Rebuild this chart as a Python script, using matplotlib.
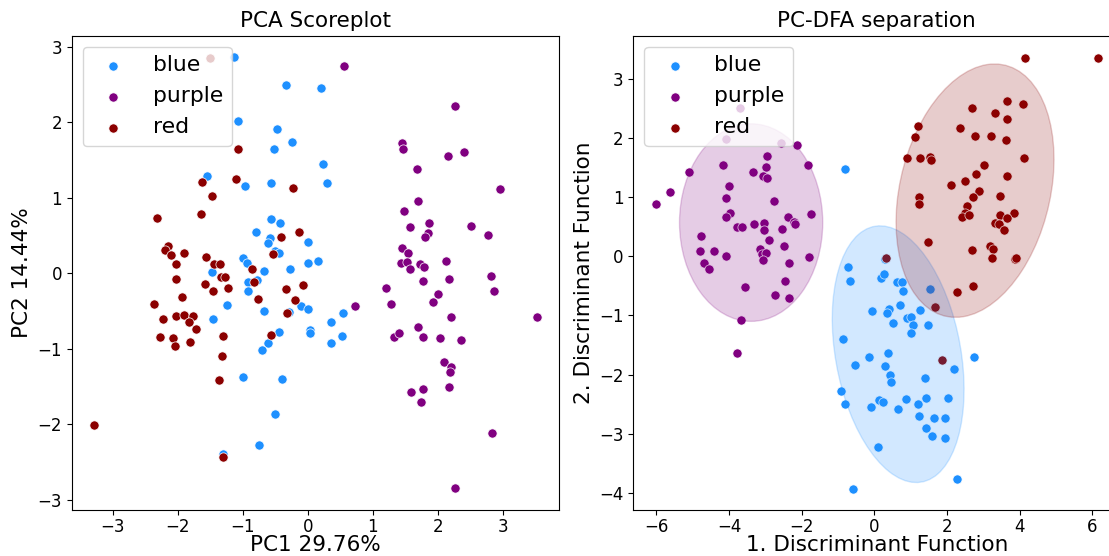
import matplotlib
matplotlib.use("Agg")
import matplotlib.pyplot as plt
from matplotlib.patches import Ellipse

# PCA scores (PC1, PC2)
pca_blue_x = [-1.13, -0.34, -1.08, -0.48, -0.25, -0.52, -1.55, -0.96, -0.57, -0.56,
              -0.42, -0.80, -0.58, -0.61, 0.00, -0.51, -0.44, -0.99, -0.93, 0.00,
              -0.27, -0.68, -1.47, -0.92, -0.78, -0.92, -1.24, -0.10, 0.00, -0.68,
              -0.29, -1.46, 0.04, 0.04, -0.44, -0.61, -0.71, -1.00, -0.40, -0.51,
              -0.75, -1.31, 0.20, 0.24, 0.30, 0.16, 0.54, 0.36, 0.53, 0.35]
pca_blue_y = [2.86, 2.49, 2.01, 1.91, 1.74, 1.65, 1.29, 1.16, 1.19, 0.72,
              0.66, 0.55, 0.46, 0.40, 0.41, 0.29, 0.27, 0.20, 0.14, 0.14,
              0.06, 0.03, 0.02, -0.11, -0.09, -0.24, -0.42, -0.43, -0.48, -0.50,
              -0.51, -0.60, -0.75, -0.79, -0.78, -0.93, -1.01, -1.37, -1.40, -1.87,
              -2.27, -2.39, 2.45, 1.45, 1.20, 0.16, -0.52, -0.65, -0.83, -0.93]

pca_purple_x = [0.56, 2.27, 1.45, 1.46, 2.16, 2.41, 1.68, 2.96, 1.69, 1.48,
                1.86, 1.57, 2.51, 1.85, 1.81, 2.77, 1.45, 1.54, 1.43, 1.53,
                1.72, 1.79, 1.58, 2.12, 1.77, 2.17, 2.82, 1.20, 2.87, 2.01,
                1.92, 1.28, 0.73, 2.20, 3.53, 1.70, 1.33, 1.41, 1.77, 2.03,
                2.36, 2.10, 2.21, 2.19, 2.17, 1.59, 1.77, 1.74, 2.83, 2.27]
pca_purple_y = [2.75, 2.21, 1.72, 1.65, 1.55, 1.60, 1.38, 1.11, 0.95, 0.83,
                0.66, 0.61, 0.63, 0.53, 0.48, 0.50, 0.34, 0.27, 0.13, 0.15,
                0.12, 0.08, 0.05, 0.16, -0.10, -0.07, -0.03, -0.19, -0.24, -0.27,
                -0.38, -0.41, -0.44, -0.58, -0.58, -0.71, -0.84, -0.79, -0.85, -0.86,
                -0.89, -1.18, -1.24, -1.31, -1.50, -1.57, -1.53, -1.71, -2.11, -2.85]

pca_red_x = [-1.51, -1.07, -1.62, -1.10, -0.22, -1.47, -2.32, -1.64, -0.14, -0.41,
             -2.15, -2.19, -1.91, -2.10, -0.53, -1.56, -2.03, -1.44, -1.35, -0.86,
             -2.02, -1.33, -1.27, -1.58, -1.46, -1.22, -0.82, -0.07, -0.34, -1.94,
             -2.37, -0.76, -0.19, -0.32, -2.03, -1.91, -1.76, -2.22, -1.82, -1.72,
             -0.57, -2.27, -2.08, -1.30, -1.81, -2.05, -1.32, -1.37, -3.29, -1.31]
pca_red_y = [2.85, 1.64, 1.21, 1.25, 1.13, 1.02, 0.73, 0.78, 0.55, 0.48,
             0.36, 0.31, 0.27, 0.24, 0.25, 0.21, 0.12, 0.12, 0.12, 0.06,
             -0.07, -0.05, -0.05, -0.14, -0.24, -0.19, -0.12, -0.15, -0.21, -0.31,
             -0.41, -0.34, -0.36, -0.53, -0.56, -0.55, -0.56, -0.60, -0.65, -0.74,
             -0.82, -0.85, -0.86, -0.83, -0.91, -0.96, -1.09, -1.41, -2.01, -2.43]

# PC-DFA scores (DF1, DF2)
dfa_blue_x = [-0.82, -0.73, -0.66, -0.06, -0.87, -0.14, -0.53, -0.93, -0.80, -0.10,
              -0.60, 0.28, 0.62, 0.76, 0.18, 0.26, 0.78, 1.54, 0.71, 0.40,
              0.35, 1.26, 0.52, 0.90, 1.02, 1.07, 1.02, 1.48, 0.38, 2.73,
              2.18, 0.30, 0.42, 0.45, 1.38, 2.02, 1.41, 0.88, 0.13, 0.24,
              1.19, 0.66, 1.22, 1.65, 1.94, 1.43, 1.59, 1.94, 0.11, 2.27]
dfa_blue_y = [1.48, -0.18, -0.41, -0.93, -1.39, -1.71, -1.84, -2.27, -2.50, -2.55,
              -3.93, -0.04, -0.43, -0.43, -0.37, -0.30, -0.58, -0.56, -0.82, -0.89,
              -0.96, -0.90, -1.13, -1.05, -1.02, -1.17, -1.29, -1.16, -1.64, -1.70,
              -1.90, -1.86, -2.01, -2.13, -2.05, -2.39, -2.39, -2.42, -2.43, -2.46,
              -2.50, -2.59, -2.70, -2.73, -2.74, -2.90, -3.04, -3.07, -3.23, -3.76]

dfa_purple_x = [-6.02, -5.63, -5.10, -3.69, -4.07, -2.58, -2.12, -2.95, -2.97, -1.83,
                -4.17, -3.35, -3.06, -2.94, -4.00, -4.07, -2.75, -3.98, -4.07, -1.74,
                -2.38, -2.20, -2.17, -3.77, -3.63, -3.32, -3.03, -3.03, -2.55, -4.77,
                -2.91, -2.48, -4.79, -4.40, -3.15, -3.08, -2.97, -3.06, -4.07, -1.81,
                -4.69, -4.55, -2.34, -2.46, -3.56, -2.73, -2.36, -3.68, -3.78]
dfa_purple_y = [0.89, 1.08, 1.42, 2.50, 1.99, 1.91, 1.88, 1.70, 1.51, 1.55,
                1.54, 1.42, 1.36, 1.33, 1.19, 0.98, 0.94, 0.73, 0.66, 0.72,
                0.67, 0.58, 0.54, 0.50, 0.49, 0.54, 0.56, 0.45, 0.47, 0.34,
                0.27, 0.18, 0.09, 0.09, 0.13, 0.04, 0.06, -0.06, 0.01, -0.01,
                -0.12, -0.22, -0.12, -0.41, -0.52, -0.65, -0.71, -1.08, -1.64]

dfa_red_x = [4.14, 6.15, 2.68, 3.32, 3.64, 4.09, 3.64, 1.19, 1.12, 2.36,
             2.77, 3.21, 3.62, 0.91, 1.26, 1.54, 1.55, 4.11, 3.01, 2.80,
             3.64, 2.49, 2.10, 2.88, 2.71, 3.45, 1.24, 1.22, 2.56, 2.48,
             2.42, 2.61, 3.45, 3.85, 3.66, 3.33, 3.43, 3.57, 1.47, 2.68,
             3.18, 3.26, 3.23, 3.88, 3.90, 0.33, 2.27, 2.70, 1.68, 1.86]
dfa_red_y = [3.36, 3.35, 2.50, 2.42, 2.62, 2.57, 2.32, 2.20, 2.02, 2.17,
             2.04, 2.04, 1.97, 1.67, 1.67, 1.68, 1.62, 1.67, 1.55, 1.39,
             1.35, 1.28, 1.20, 1.10, 1.01, 1.02, 1.01, 0.88, 0.85, 0.73,
             0.66, 0.70, 0.70, 0.73, 0.64, 0.57, 0.55, 0.45, 0.24, 0.11,
             0.17, 0.13, -0.03, -0.05, -0.03, -0.03, -0.61, -0.50, -0.85, -1.75]

# group ellipses: center, width, height, angle (data units)
ell_blue = ((0.655, -1.655), 4.60, 3.29, -61.7)
ell_purple = ((-3.39, 0.57), 3.94, 3.34, 0.0)
ell_red = ((2.77, 1.11), 4.82, 3.74, 43.4)

labels = ["blue", "purple", "red"]
colors = ["dodgerblue", "purple", "darkred"]

fig = plt.figure(figsize=(11.09, 5.56), dpi=100)
ax1 = fig.add_axes([0.0647, 0.0827, 0.4397, 0.8531])
ax2 = fig.add_axes([0.5711, 0.0827, 0.4389, 0.8531])

pca = [(pca_blue_x, pca_blue_y), (pca_purple_x, pca_purple_y), (pca_red_x, pca_red_y)]
dfa = [(dfa_blue_x, dfa_blue_y), (dfa_purple_x, dfa_purple_y), (dfa_red_x, dfa_red_y)]

for (x, y), lab, c in zip(pca, labels, colors):
    ax1.scatter(x, y, s=44, color=c, edgecolors="white", linewidths=0.5, label=lab)
for (x, y), lab, c in zip(dfa, labels, colors):
    ax2.scatter(x, y, s=44, color=c, edgecolors="white", linewidths=0.5, label=lab)

for (cen, w, h, ang), c in zip([ell_blue, ell_purple, ell_red], colors):
    ax2.add_patch(Ellipse(cen, w, h, angle=ang, color=c, alpha=0.2, zorder=3))

ax1.set_title("PCA Scoreplot", fontsize=15.5)
ax1.set_xlabel("PC1 29.76%", fontsize=15.5)
ax1.set_ylabel("PC2 14.44%", fontsize=15.5)
ax2.set_title("PC-DFA separation", fontsize=15.5)
ax2.set_xlabel("1. Discriminant Function", fontsize=15.5)
ax2.set_ylabel("2. Discriminant Function", fontsize=15.5)

ax2.set_xlim(-6.63, 6.76)
ax2.set_ylim(-4.29, 3.73)

for ax in (ax1, ax2):
    ax.tick_params(labelsize=12)
    ax.tick_params(axis="x", pad=2)
    ax.xaxis.set_label_coords(0.5, -0.052)
    ax.legend(loc="upper left", fontsize=15.75)

fig.savefig("out.png", dpi=100)
